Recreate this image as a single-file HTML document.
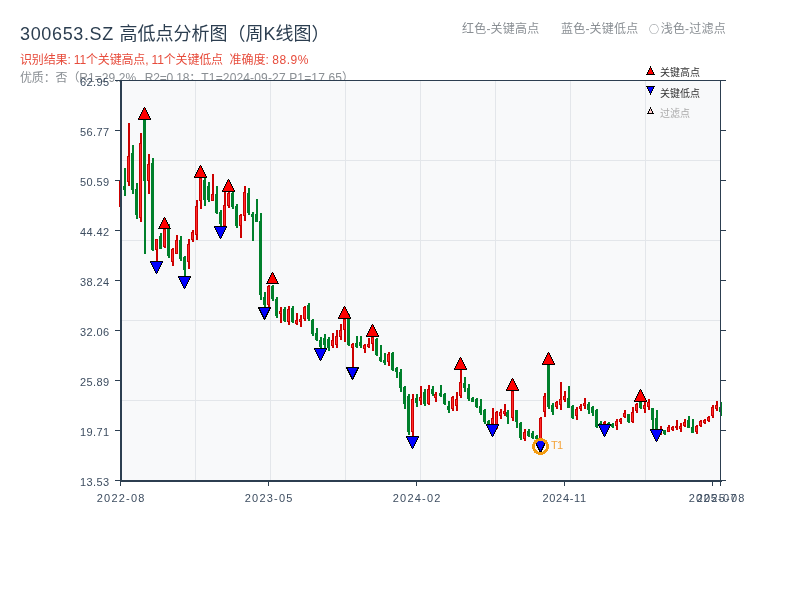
<!DOCTYPE html>
<html lang="zh-CN"><head><meta charset="utf-8"><title>300653.SZ 高低点分析图</title>
<style>
html,body{margin:0;padding:0;background:#fff}
body{width:800px;height:600px;position:relative;overflow:hidden;font-family:"Liberation Sans","Noto Sans CJK SC",sans-serif}
div{position:absolute;white-space:nowrap;line-height:1;will-change:transform}
.title{left:20px;top:25px;font-size:18px;color:#2c3e50}
.title span{letter-spacing:.65px}
.res{left:20px;top:54px;font-size:12px;color:#e74c3c}
.qual{left:20px;top:71px;font-size:12px;color:#8a8f94;letter-spacing:.08px}
.jp{font-family:"Noto Sans CJK JP",sans-serif}
.tl{top:23px;font-size:12px;color:#8a8f94;letter-spacing:.2px}
svg{position:absolute;left:0;top:0}
.yl{right:690px;font-size:11px;color:#3d4d60;height:12px;line-height:12px;text-align:right;letter-spacing:.4px}
.xl{top:493px;width:60px;text-align:center;font-size:11px;color:#3d4d60;letter-spacing:1.2px;padding-left:1.2px}
.lg{left:660px;font-size:10px;color:#333}
.t1{left:551px;top:439.5px;font-size:11px;color:#f3a33a;letter-spacing:-.6px}
</style></head><body>
<div class="title"><span>300653.SZ </span>高低点分析图（周K线图）</div>
<div class="res"><span style="letter-spacing:-.15px">识别结果: 11个关键高点, 11个关键低点</span>&nbsp; 准确度: <span style="letter-spacing:.5px">88.9%</span></div>
<div class="qual"><span style="letter-spacing:-.15px">优质<span class="jp">：</span>否（</span>R1=29.2%<span style="letter-spacing:.9px">, </span><span style="letter-spacing:-.17px">R2=0.18</span><span class="jp">；</span><span style="letter-spacing:.15px">T1=2024-09-27 P1=17.65</span>）</div>
<div class="tl" style="left:462px">红色-关键高点</div>
<div class="tl" style="left:561px">蓝色-关键低点</div>
<div class="tl" style="left:649px"><span style="font-family:'Noto Sans CJK SC',sans-serif;font-size:10px;margin-right:1.5px;position:relative;top:-0.5px">○</span>浅色-过滤点</div>
<svg width="800" height="600" viewBox="0 0 800 600" shape-rendering="crispEdges">
<rect x="120" y="80" width="601" height="401" fill="#f8f9fa"/>
<g fill="#e3e6ea">
<rect x="195" y="80" width="1" height="400"/>
<rect x="270" y="80" width="1" height="400"/>
<rect x="345" y="80" width="1" height="400"/>
<rect x="420" y="80" width="1" height="400"/>
<rect x="495" y="80" width="1" height="400"/>
<rect x="570" y="80" width="1" height="400"/>
<rect x="645" y="80" width="1" height="400"/>
<rect x="120" y="160" width="600" height="1"/>
<rect x="120" y="240" width="600" height="1"/>
<rect x="120" y="320" width="600" height="1"/>
<rect x="120" y="400" width="600" height="1"/>
</g>
<g>
<rect x="120" y="181" width="2" height="26" fill="#cc0000"/>
<rect x="119" y="181" width="3" height="26" fill="#cc0000"/>
<rect x="120" y="182" width="1" height="24" fill="#ff2a2a"/>
<rect x="124" y="168" width="2" height="28" fill="#00802b"/>
<rect x="123" y="186" width="3" height="4" fill="#00802b"/>
<rect x="128" y="123" width="2" height="63" fill="#cc0000"/>
<rect x="127" y="156" width="3" height="26" fill="#cc0000"/>
<rect x="128" y="157" width="1" height="24" fill="#ff2a2a"/>
<rect x="132" y="145" width="2" height="49" fill="#00802b"/>
<rect x="131" y="153" width="3" height="37" fill="#00802b"/>
<rect x="136" y="183" width="2" height="36" fill="#00802b"/>
<rect x="135" y="189" width="3" height="26" fill="#00802b"/>
<rect x="140" y="133" width="2" height="89" fill="#cc0000"/>
<rect x="139" y="143" width="3" height="75" fill="#cc0000"/>
<rect x="140" y="144" width="1" height="73" fill="#ff2a2a"/>
<rect x="144" y="120" width="2" height="134" fill="#00802b"/>
<rect x="143" y="120" width="3" height="61" fill="#00802b"/>
<rect x="148" y="154" width="2" height="40" fill="#cc0000"/>
<rect x="147" y="164" width="3" height="17" fill="#cc0000"/>
<rect x="148" y="165" width="1" height="15" fill="#ff2a2a"/>
<rect x="152" y="158" width="2" height="93" fill="#00802b"/>
<rect x="151" y="163" width="3" height="87" fill="#00802b"/>
<rect x="156" y="239" width="2" height="22" fill="#cc0000"/>
<rect x="155" y="239" width="3" height="11" fill="#cc0000"/>
<rect x="156" y="240" width="1" height="9" fill="#ff2a2a"/>
<rect x="160" y="233" width="2" height="16" fill="#00802b"/>
<rect x="159" y="236" width="3" height="13" fill="#00802b"/>
<rect x="164" y="229" width="2" height="19" fill="#cc0000"/>
<rect x="163" y="229" width="3" height="18" fill="#cc0000"/>
<rect x="164" y="230" width="1" height="16" fill="#ff2a2a"/>
<rect x="168" y="224" width="2" height="34" fill="#00802b"/>
<rect x="167" y="226" width="3" height="30" fill="#00802b"/>
<rect x="172" y="248" width="2" height="18" fill="#cc0000"/>
<rect x="171" y="249" width="3" height="13" fill="#cc0000"/>
<rect x="172" y="250" width="1" height="11" fill="#ff2a2a"/>
<rect x="176" y="235" width="2" height="19" fill="#cc0000"/>
<rect x="175" y="240" width="3" height="14" fill="#cc0000"/>
<rect x="176" y="241" width="1" height="12" fill="#ff2a2a"/>
<rect x="180" y="236" width="2" height="25" fill="#00802b"/>
<rect x="179" y="240" width="3" height="19" fill="#00802b"/>
<rect x="184" y="256" width="2" height="20" fill="#00802b"/>
<rect x="183" y="257" width="3" height="13" fill="#00802b"/>
<rect x="188" y="239" width="2" height="30" fill="#cc0000"/>
<rect x="187" y="244" width="3" height="18" fill="#cc0000"/>
<rect x="188" y="245" width="1" height="16" fill="#ff2a2a"/>
<rect x="192" y="230" width="2" height="12" fill="#cc0000"/>
<rect x="191" y="232" width="3" height="8" fill="#cc0000"/>
<rect x="192" y="233" width="1" height="6" fill="#ff2a2a"/>
<rect x="196" y="200" width="2" height="40" fill="#cc0000"/>
<rect x="195" y="206" width="3" height="29" fill="#cc0000"/>
<rect x="196" y="207" width="1" height="27" fill="#ff2a2a"/>
<rect x="200" y="178" width="2" height="31" fill="#cc0000"/>
<rect x="199" y="178" width="3" height="23" fill="#cc0000"/>
<rect x="200" y="179" width="1" height="21" fill="#ff2a2a"/>
<rect x="204" y="178" width="2" height="28" fill="#00802b"/>
<rect x="203" y="180" width="3" height="20" fill="#00802b"/>
<rect x="208" y="182" width="2" height="20" fill="#00802b"/>
<rect x="207" y="186" width="3" height="14" fill="#00802b"/>
<rect x="212" y="174" width="2" height="27" fill="#cc0000"/>
<rect x="211" y="194" width="3" height="7" fill="#cc0000"/>
<rect x="212" y="195" width="1" height="5" fill="#ff2a2a"/>
<rect x="216" y="186" width="2" height="28" fill="#00802b"/>
<rect x="215" y="194" width="3" height="19" fill="#00802b"/>
<rect x="220" y="210" width="2" height="16" fill="#00802b"/>
<rect x="219" y="212" width="3" height="12" fill="#00802b"/>
<rect x="224" y="192" width="2" height="34" fill="#cc0000"/>
<rect x="223" y="205" width="3" height="21" fill="#cc0000"/>
<rect x="224" y="206" width="1" height="19" fill="#ff2a2a"/>
<rect x="228" y="192" width="2" height="16" fill="#cc0000"/>
<rect x="227" y="193" width="3" height="13" fill="#cc0000"/>
<rect x="228" y="194" width="1" height="11" fill="#ff2a2a"/>
<rect x="232" y="192" width="2" height="17" fill="#00802b"/>
<rect x="231" y="193" width="3" height="14" fill="#00802b"/>
<rect x="236" y="204" width="2" height="24" fill="#00802b"/>
<rect x="235" y="206" width="3" height="20" fill="#00802b"/>
<rect x="240" y="214" width="2" height="24" fill="#cc0000"/>
<rect x="239" y="215" width="3" height="11" fill="#cc0000"/>
<rect x="240" y="216" width="1" height="9" fill="#ff2a2a"/>
<rect x="244" y="186" width="2" height="35" fill="#cc0000"/>
<rect x="243" y="192" width="3" height="24" fill="#cc0000"/>
<rect x="244" y="193" width="1" height="22" fill="#ff2a2a"/>
<rect x="248" y="188" width="2" height="27" fill="#00802b"/>
<rect x="247" y="193" width="3" height="20" fill="#00802b"/>
<rect x="252" y="212" width="2" height="29" fill="#00802b"/>
<rect x="251" y="214" width="3" height="3" fill="#00802b"/>
<rect x="256" y="199" width="2" height="23" fill="#00802b"/>
<rect x="255" y="214" width="3" height="8" fill="#00802b"/>
<rect x="260" y="213" width="2" height="87" fill="#00802b"/>
<rect x="259" y="221" width="3" height="74" fill="#00802b"/>
<rect x="264" y="292" width="2" height="16" fill="#00802b"/>
<rect x="263" y="297" width="3" height="8" fill="#00802b"/>
<rect x="268" y="285" width="2" height="22" fill="#cc0000"/>
<rect x="267" y="286" width="3" height="19" fill="#cc0000"/>
<rect x="268" y="287" width="1" height="17" fill="#ff2a2a"/>
<rect x="272" y="285" width="2" height="16" fill="#00802b"/>
<rect x="271" y="286" width="3" height="13" fill="#00802b"/>
<rect x="276" y="297" width="2" height="21" fill="#00802b"/>
<rect x="275" y="299" width="3" height="17" fill="#00802b"/>
<rect x="280" y="307" width="2" height="16" fill="#cc0000"/>
<rect x="279" y="311" width="3" height="3" fill="#cc0000"/>
<rect x="280" y="312" width="1" height="1" fill="#ff2a2a"/>
<rect x="284" y="307" width="2" height="15" fill="#00802b"/>
<rect x="283" y="309" width="3" height="12" fill="#00802b"/>
<rect x="288" y="306" width="2" height="19" fill="#cc0000"/>
<rect x="287" y="309" width="3" height="13" fill="#cc0000"/>
<rect x="288" y="310" width="1" height="11" fill="#ff2a2a"/>
<rect x="292" y="306" width="2" height="17" fill="#00802b"/>
<rect x="291" y="308" width="3" height="14" fill="#00802b"/>
<rect x="296" y="313" width="2" height="12" fill="#cc0000"/>
<rect x="295" y="320" width="3" height="4" fill="#cc0000"/>
<rect x="296" y="321" width="1" height="2" fill="#ff2a2a"/>
<rect x="300" y="315" width="2" height="12" fill="#cc0000"/>
<rect x="299" y="319" width="3" height="3" fill="#cc0000"/>
<rect x="300" y="320" width="1" height="1" fill="#ff2a2a"/>
<rect x="304" y="306" width="2" height="15" fill="#cc0000"/>
<rect x="303" y="307" width="3" height="12" fill="#cc0000"/>
<rect x="304" y="308" width="1" height="10" fill="#ff2a2a"/>
<rect x="308" y="303" width="2" height="18" fill="#00802b"/>
<rect x="307" y="305" width="3" height="14" fill="#00802b"/>
<rect x="312" y="319" width="2" height="17" fill="#00802b"/>
<rect x="311" y="320" width="3" height="14" fill="#00802b"/>
<rect x="316" y="328" width="2" height="13" fill="#00802b"/>
<rect x="315" y="333" width="3" height="7" fill="#00802b"/>
<rect x="320" y="337" width="2" height="11" fill="#00802b"/>
<rect x="319" y="340" width="3" height="7" fill="#00802b"/>
<rect x="324" y="334" width="2" height="14" fill="#00802b"/>
<rect x="323" y="338" width="3" height="7" fill="#00802b"/>
<rect x="328" y="337" width="2" height="14" fill="#00802b"/>
<rect x="327" y="339" width="3" height="9" fill="#00802b"/>
<rect x="332" y="333" width="2" height="15" fill="#cc0000"/>
<rect x="331" y="340" width="3" height="6" fill="#cc0000"/>
<rect x="332" y="341" width="1" height="4" fill="#ff2a2a"/>
<rect x="336" y="330" width="2" height="18" fill="#cc0000"/>
<rect x="335" y="336" width="3" height="9" fill="#cc0000"/>
<rect x="336" y="337" width="1" height="7" fill="#ff2a2a"/>
<rect x="340" y="324" width="2" height="16" fill="#cc0000"/>
<rect x="339" y="330" width="3" height="7" fill="#cc0000"/>
<rect x="340" y="331" width="1" height="5" fill="#ff2a2a"/>
<rect x="344" y="319" width="2" height="23" fill="#cc0000"/>
<rect x="343" y="319" width="3" height="11" fill="#cc0000"/>
<rect x="344" y="320" width="1" height="9" fill="#ff2a2a"/>
<rect x="348" y="314" width="2" height="32" fill="#00802b"/>
<rect x="347" y="319" width="3" height="26" fill="#00802b"/>
<rect x="352" y="343" width="2" height="25" fill="#cc0000"/>
<rect x="351" y="344" width="3" height="4" fill="#cc0000"/>
<rect x="352" y="345" width="1" height="2" fill="#ff2a2a"/>
<rect x="356" y="336" width="2" height="12" fill="#00802b"/>
<rect x="355" y="343" width="3" height="4" fill="#00802b"/>
<rect x="360" y="336" width="2" height="12" fill="#00802b"/>
<rect x="359" y="342" width="3" height="4" fill="#00802b"/>
<rect x="364" y="344" width="2" height="9" fill="#cc0000"/>
<rect x="363" y="345" width="3" height="4" fill="#cc0000"/>
<rect x="364" y="346" width="1" height="2" fill="#ff2a2a"/>
<rect x="368" y="338" width="2" height="10" fill="#cc0000"/>
<rect x="367" y="344" width="3" height="3" fill="#cc0000"/>
<rect x="368" y="345" width="1" height="1" fill="#ff2a2a"/>
<rect x="372" y="336" width="2" height="15" fill="#cc0000"/>
<rect x="371" y="337" width="3" height="7" fill="#cc0000"/>
<rect x="372" y="338" width="1" height="5" fill="#ff2a2a"/>
<rect x="376" y="338" width="2" height="18" fill="#00802b"/>
<rect x="375" y="339" width="3" height="16" fill="#00802b"/>
<rect x="380" y="345" width="2" height="17" fill="#00802b"/>
<rect x="379" y="357" width="3" height="4" fill="#00802b"/>
<rect x="384" y="353" width="2" height="12" fill="#00802b"/>
<rect x="383" y="360" width="3" height="3" fill="#00802b"/>
<rect x="388" y="352" width="2" height="14" fill="#cc0000"/>
<rect x="387" y="354" width="3" height="8" fill="#cc0000"/>
<rect x="388" y="355" width="1" height="6" fill="#ff2a2a"/>
<rect x="392" y="352" width="2" height="19" fill="#00802b"/>
<rect x="391" y="353" width="3" height="17" fill="#00802b"/>
<rect x="396" y="367" width="2" height="11" fill="#00802b"/>
<rect x="395" y="368" width="3" height="4" fill="#00802b"/>
<rect x="400" y="369" width="2" height="23" fill="#00802b"/>
<rect x="399" y="372" width="3" height="16" fill="#00802b"/>
<rect x="404" y="386" width="2" height="23" fill="#00802b"/>
<rect x="403" y="387" width="3" height="17" fill="#00802b"/>
<rect x="408" y="394" width="2" height="41" fill="#00802b"/>
<rect x="407" y="396" width="3" height="36" fill="#00802b"/>
<rect x="412" y="394" width="2" height="42" fill="#cc0000"/>
<rect x="411" y="399" width="3" height="33" fill="#cc0000"/>
<rect x="412" y="400" width="1" height="31" fill="#ff2a2a"/>
<rect x="416" y="394" width="2" height="13" fill="#00802b"/>
<rect x="415" y="398" width="3" height="5" fill="#00802b"/>
<rect x="420" y="386" width="2" height="19" fill="#cc0000"/>
<rect x="419" y="397" width="3" height="4" fill="#cc0000"/>
<rect x="420" y="398" width="1" height="2" fill="#ff2a2a"/>
<rect x="424" y="389" width="2" height="17" fill="#00802b"/>
<rect x="423" y="392" width="3" height="12" fill="#00802b"/>
<rect x="428" y="385" width="2" height="20" fill="#cc0000"/>
<rect x="427" y="389" width="3" height="15" fill="#cc0000"/>
<rect x="428" y="390" width="1" height="13" fill="#ff2a2a"/>
<rect x="432" y="386" width="2" height="10" fill="#00802b"/>
<rect x="431" y="389" width="3" height="5" fill="#00802b"/>
<rect x="435" y="392" width="2" height="10" fill="#cc0000"/>
<rect x="434" y="394" width="3" height="4" fill="#cc0000"/>
<rect x="435" y="395" width="1" height="2" fill="#ff2a2a"/>
<rect x="440" y="385" width="2" height="12" fill="#00802b"/>
<rect x="439" y="393" width="3" height="3" fill="#00802b"/>
<rect x="444" y="393" width="2" height="12" fill="#00802b"/>
<rect x="443" y="394" width="3" height="10" fill="#00802b"/>
<rect x="448" y="401" width="2" height="12" fill="#00802b"/>
<rect x="447" y="406" width="3" height="4" fill="#00802b"/>
<rect x="452" y="396" width="2" height="15" fill="#cc0000"/>
<rect x="451" y="397" width="3" height="12" fill="#cc0000"/>
<rect x="452" y="398" width="1" height="10" fill="#ff2a2a"/>
<rect x="456" y="392" width="2" height="19" fill="#cc0000"/>
<rect x="455" y="399" width="3" height="7" fill="#cc0000"/>
<rect x="456" y="400" width="1" height="5" fill="#ff2a2a"/>
<rect x="460" y="370" width="2" height="28" fill="#cc0000"/>
<rect x="459" y="382" width="3" height="14" fill="#cc0000"/>
<rect x="460" y="383" width="1" height="12" fill="#ff2a2a"/>
<rect x="464" y="377" width="2" height="15" fill="#00802b"/>
<rect x="463" y="383" width="3" height="5" fill="#00802b"/>
<rect x="468" y="384" width="2" height="17" fill="#00802b"/>
<rect x="467" y="388" width="3" height="11" fill="#00802b"/>
<rect x="472" y="397" width="2" height="5" fill="#00802b"/>
<rect x="471" y="398" width="3" height="4" fill="#00802b"/>
<rect x="476" y="398" width="2" height="10" fill="#00802b"/>
<rect x="475" y="399" width="3" height="8" fill="#00802b"/>
<rect x="480" y="399" width="2" height="16" fill="#00802b"/>
<rect x="479" y="406" width="3" height="7" fill="#00802b"/>
<rect x="484" y="409" width="2" height="15" fill="#00802b"/>
<rect x="483" y="410" width="3" height="12" fill="#00802b"/>
<rect x="488" y="420" width="2" height="4" fill="#00802b"/>
<rect x="487" y="421" width="3" height="3" fill="#00802b"/>
<rect x="492" y="408" width="2" height="16" fill="#cc0000"/>
<rect x="491" y="418" width="3" height="6" fill="#cc0000"/>
<rect x="492" y="419" width="1" height="4" fill="#ff2a2a"/>
<rect x="496" y="411" width="2" height="18" fill="#cc0000"/>
<rect x="495" y="412" width="3" height="13" fill="#cc0000"/>
<rect x="496" y="413" width="1" height="11" fill="#ff2a2a"/>
<rect x="500" y="409" width="2" height="10" fill="#cc0000"/>
<rect x="499" y="412" width="3" height="4" fill="#cc0000"/>
<rect x="500" y="413" width="1" height="2" fill="#ff2a2a"/>
<rect x="504" y="404" width="2" height="12" fill="#cc0000"/>
<rect x="503" y="411" width="3" height="3" fill="#cc0000"/>
<rect x="504" y="412" width="1" height="1" fill="#ff2a2a"/>
<rect x="507" y="410" width="2" height="14" fill="#00802b"/>
<rect x="506" y="412" width="3" height="5" fill="#00802b"/>
<rect x="512" y="391" width="2" height="30" fill="#cc0000"/>
<rect x="511" y="391" width="3" height="27" fill="#cc0000"/>
<rect x="512" y="392" width="1" height="25" fill="#ff2a2a"/>
<rect x="516" y="410" width="2" height="18" fill="#00802b"/>
<rect x="515" y="410" width="3" height="12" fill="#00802b"/>
<rect x="520" y="422" width="2" height="18" fill="#00802b"/>
<rect x="519" y="423" width="3" height="15" fill="#00802b"/>
<rect x="524" y="429" width="2" height="12" fill="#cc0000"/>
<rect x="523" y="432" width="3" height="7" fill="#cc0000"/>
<rect x="524" y="433" width="1" height="5" fill="#ff2a2a"/>
<rect x="528" y="429" width="2" height="8" fill="#00802b"/>
<rect x="527" y="431" width="3" height="5" fill="#00802b"/>
<rect x="532" y="431" width="2" height="8" fill="#00802b"/>
<rect x="531" y="433" width="3" height="5" fill="#00802b"/>
<rect x="536" y="435" width="2" height="5" fill="#00802b"/>
<rect x="535" y="436" width="3" height="3" fill="#00802b"/>
<rect x="540" y="417" width="2" height="23" fill="#cc0000"/>
<rect x="539" y="418" width="3" height="21" fill="#cc0000"/>
<rect x="540" y="419" width="1" height="19" fill="#ff2a2a"/>
<rect x="544" y="393" width="2" height="24" fill="#cc0000"/>
<rect x="543" y="396" width="3" height="16" fill="#cc0000"/>
<rect x="544" y="397" width="1" height="14" fill="#ff2a2a"/>
<rect x="548" y="365" width="2" height="44" fill="#00802b"/>
<rect x="547" y="365" width="3" height="42" fill="#00802b"/>
<rect x="552" y="403" width="2" height="12" fill="#00802b"/>
<rect x="551" y="405" width="3" height="7" fill="#00802b"/>
<rect x="556" y="401" width="2" height="8" fill="#cc0000"/>
<rect x="555" y="402" width="3" height="5" fill="#cc0000"/>
<rect x="556" y="403" width="1" height="3" fill="#ff2a2a"/>
<rect x="560" y="382" width="2" height="28" fill="#cc0000"/>
<rect x="559" y="399" width="3" height="6" fill="#cc0000"/>
<rect x="560" y="400" width="1" height="4" fill="#ff2a2a"/>
<rect x="564" y="391" width="2" height="11" fill="#cc0000"/>
<rect x="563" y="396" width="3" height="4" fill="#cc0000"/>
<rect x="564" y="397" width="1" height="2" fill="#ff2a2a"/>
<rect x="568" y="386" width="2" height="22" fill="#00802b"/>
<rect x="567" y="398" width="3" height="10" fill="#00802b"/>
<rect x="572" y="405" width="2" height="14" fill="#00802b"/>
<rect x="571" y="406" width="3" height="12" fill="#00802b"/>
<rect x="576" y="407" width="2" height="13" fill="#cc0000"/>
<rect x="575" y="409" width="3" height="7" fill="#cc0000"/>
<rect x="576" y="410" width="1" height="5" fill="#ff2a2a"/>
<rect x="580" y="404" width="2" height="7" fill="#cc0000"/>
<rect x="579" y="406" width="3" height="3" fill="#cc0000"/>
<rect x="580" y="407" width="1" height="1" fill="#ff2a2a"/>
<rect x="584" y="398" width="2" height="11" fill="#cc0000"/>
<rect x="583" y="403" width="3" height="3" fill="#cc0000"/>
<rect x="584" y="404" width="1" height="1" fill="#ff2a2a"/>
<rect x="588" y="402" width="2" height="12" fill="#00802b"/>
<rect x="587" y="404" width="3" height="6" fill="#00802b"/>
<rect x="592" y="406" width="2" height="10" fill="#00802b"/>
<rect x="591" y="407" width="3" height="6" fill="#00802b"/>
<rect x="596" y="409" width="2" height="19" fill="#00802b"/>
<rect x="595" y="410" width="3" height="17" fill="#00802b"/>
<rect x="600" y="421" width="2" height="8" fill="#00802b"/>
<rect x="599" y="423" width="3" height="5" fill="#00802b"/>
<rect x="604" y="421" width="2" height="3" fill="#cc0000"/>
<rect x="603" y="422" width="3" height="2" fill="#cc0000"/>
<rect x="608" y="422" width="2" height="3" fill="#00802b"/>
<rect x="607" y="423" width="3" height="2" fill="#00802b"/>
<rect x="612" y="423" width="2" height="5" fill="#00802b"/>
<rect x="611" y="424" width="3" height="3" fill="#00802b"/>
<rect x="616" y="419" width="2" height="11" fill="#cc0000"/>
<rect x="615" y="421" width="3" height="5" fill="#cc0000"/>
<rect x="616" y="422" width="1" height="3" fill="#ff2a2a"/>
<rect x="620" y="418" width="2" height="6" fill="#cc0000"/>
<rect x="619" y="419" width="3" height="3" fill="#cc0000"/>
<rect x="620" y="420" width="1" height="1" fill="#ff2a2a"/>
<rect x="624" y="410" width="2" height="8" fill="#cc0000"/>
<rect x="623" y="413" width="3" height="4" fill="#cc0000"/>
<rect x="624" y="414" width="1" height="2" fill="#ff2a2a"/>
<rect x="628" y="414" width="2" height="9" fill="#00802b"/>
<rect x="627" y="414" width="3" height="8" fill="#00802b"/>
<rect x="632" y="407" width="2" height="16" fill="#cc0000"/>
<rect x="631" y="412" width="3" height="10" fill="#cc0000"/>
<rect x="632" y="413" width="1" height="8" fill="#ff2a2a"/>
<rect x="636" y="403" width="2" height="10" fill="#cc0000"/>
<rect x="635" y="404" width="3" height="7" fill="#cc0000"/>
<rect x="636" y="405" width="1" height="5" fill="#ff2a2a"/>
<rect x="640" y="402" width="2" height="7" fill="#00802b"/>
<rect x="639" y="402" width="3" height="6" fill="#00802b"/>
<rect x="644" y="402" width="2" height="11" fill="#cc0000"/>
<rect x="643" y="405" width="3" height="4" fill="#cc0000"/>
<rect x="644" y="406" width="1" height="2" fill="#ff2a2a"/>
<rect x="648" y="399" width="2" height="11" fill="#cc0000"/>
<rect x="647" y="402" width="3" height="5" fill="#cc0000"/>
<rect x="648" y="403" width="1" height="3" fill="#ff2a2a"/>
<rect x="652" y="408" width="2" height="21" fill="#00802b"/>
<rect x="651" y="408" width="3" height="12" fill="#00802b"/>
<rect x="656" y="410" width="2" height="19" fill="#00802b"/>
<rect x="655" y="418" width="3" height="11" fill="#00802b"/>
<rect x="660" y="426" width="2" height="9" fill="#cc0000"/>
<rect x="659" y="430" width="3" height="4" fill="#cc0000"/>
<rect x="660" y="431" width="1" height="2" fill="#ff2a2a"/>
<rect x="664" y="430" width="2" height="5" fill="#00802b"/>
<rect x="663" y="430" width="3" height="4" fill="#00802b"/>
<rect x="668" y="425" width="2" height="7" fill="#cc0000"/>
<rect x="667" y="427" width="3" height="5" fill="#cc0000"/>
<rect x="668" y="428" width="1" height="3" fill="#ff2a2a"/>
<rect x="672" y="426" width="2" height="5" fill="#cc0000"/>
<rect x="671" y="427" width="3" height="3" fill="#cc0000"/>
<rect x="672" y="428" width="1" height="1" fill="#ff2a2a"/>
<rect x="676" y="420" width="2" height="10" fill="#cc0000"/>
<rect x="675" y="426" width="3" height="2" fill="#cc0000"/>
<rect x="680" y="423" width="2" height="9" fill="#cc0000"/>
<rect x="679" y="426" width="3" height="3" fill="#cc0000"/>
<rect x="680" y="427" width="1" height="1" fill="#ff2a2a"/>
<rect x="684" y="419" width="2" height="8" fill="#cc0000"/>
<rect x="683" y="422" width="3" height="4" fill="#cc0000"/>
<rect x="684" y="423" width="1" height="2" fill="#ff2a2a"/>
<rect x="688" y="416" width="2" height="12" fill="#00802b"/>
<rect x="687" y="420" width="3" height="8" fill="#00802b"/>
<rect x="692" y="419" width="2" height="14" fill="#00802b"/>
<rect x="691" y="427" width="3" height="6" fill="#00802b"/>
<rect x="696" y="425" width="2" height="9" fill="#cc0000"/>
<rect x="695" y="426" width="3" height="6" fill="#cc0000"/>
<rect x="696" y="427" width="1" height="4" fill="#ff2a2a"/>
<rect x="700" y="420" width="2" height="7" fill="#cc0000"/>
<rect x="699" y="421" width="3" height="5" fill="#cc0000"/>
<rect x="700" y="422" width="1" height="3" fill="#ff2a2a"/>
<rect x="704" y="419" width="2" height="5" fill="#cc0000"/>
<rect x="703" y="420" width="3" height="3" fill="#cc0000"/>
<rect x="704" y="421" width="1" height="1" fill="#ff2a2a"/>
<rect x="708" y="416" width="2" height="6" fill="#cc0000"/>
<rect x="707" y="417" width="3" height="4" fill="#cc0000"/>
<rect x="708" y="418" width="1" height="2" fill="#ff2a2a"/>
<rect x="712" y="405" width="2" height="13" fill="#cc0000"/>
<rect x="711" y="407" width="3" height="9" fill="#cc0000"/>
<rect x="712" y="408" width="1" height="7" fill="#ff2a2a"/>
<rect x="716" y="401" width="2" height="10" fill="#cc0000"/>
<rect x="715" y="405" width="3" height="4" fill="#cc0000"/>
<rect x="716" y="406" width="1" height="2" fill="#ff2a2a"/>
<rect x="720" y="402" width="2" height="14" fill="#00802b"/>
<rect x="719" y="407" width="3" height="5" fill="#00802b"/>
</g>
<g fill="#2c3e50">
<rect x="120" y="80" width="2" height="402"/>
<rect x="120" y="480" width="602" height="2"/>
<rect x="120" y="80" width="601" height="1"/>
<rect x="720" y="80" width="1" height="401"/>
<rect x="115" y="80" width="5" height="1"/>
<rect x="721" y="80" width="5" height="1"/>
<rect x="115" y="130" width="5" height="1"/>
<rect x="721" y="130" width="5" height="1"/>
<rect x="115" y="180" width="5" height="1"/>
<rect x="721" y="180" width="5" height="1"/>
<rect x="115" y="230" width="5" height="1"/>
<rect x="721" y="230" width="5" height="1"/>
<rect x="115" y="280" width="5" height="1"/>
<rect x="721" y="280" width="5" height="1"/>
<rect x="115" y="330" width="5" height="1"/>
<rect x="721" y="330" width="5" height="1"/>
<rect x="115" y="380" width="5" height="1"/>
<rect x="721" y="380" width="5" height="1"/>
<rect x="115" y="430" width="5" height="1"/>
<rect x="721" y="430" width="5" height="1"/>
<rect x="115" y="480" width="5" height="1"/>
<rect x="721" y="480" width="5" height="1"/>
<rect x="120" y="482" width="1" height="4"/>
<rect x="268" y="482" width="1" height="4"/>
<rect x="416" y="482" width="1" height="4"/>
<rect x="564" y="482" width="1" height="4"/>
<rect x="712" y="482" width="1" height="4"/>
<rect x="720" y="482" width="1" height="4"/>
</g>
<g stroke="#000" stroke-width="1" stroke-linejoin="bevel" shape-rendering="crispEdges">
<polygon points="144.5,107.00 150.5,119.00 138.5,119.00" fill="#ff0000"/>
<polygon points="164.5,216.90 170.5,228.90 158.5,228.90" fill="#ff0000"/>
<polygon points="200.5,165.25 206.5,177.25 194.5,177.25" fill="#ff0000"/>
<polygon points="228.5,179.10 234.5,191.10 222.5,191.10" fill="#ff0000"/>
<polygon points="272.5,271.90 278.5,283.90 266.5,283.90" fill="#ff0000"/>
<polygon points="344.5,306.25 350.5,318.25 338.5,318.25" fill="#ff0000"/>
<polygon points="372.5,324.00 378.5,336.00 366.5,336.00" fill="#ff0000"/>
<polygon points="460.5,357.10 466.5,369.10 454.5,369.10" fill="#ff0000"/>
<polygon points="512.5,378.10 518.5,390.10 506.5,390.10" fill="#ff0000"/>
<polygon points="548.5,352.10 554.5,364.10 542.5,364.10" fill="#ff0000"/>
<polygon points="640.5,389.00 646.5,401.00 634.5,401.00" fill="#ff0000"/>
<polygon points="150.5,261.75 162.5,261.75 156.5,273.75" fill="#0000ff"/>
<polygon points="178.5,276.75 190.5,276.75 184.5,288.75" fill="#0000ff"/>
<polygon points="214.5,226.75 226.5,226.75 220.5,238.75" fill="#0000ff"/>
<polygon points="258.5,307.50 270.5,307.50 264.5,319.50" fill="#0000ff"/>
<polygon points="314.5,348.90 326.5,348.90 320.5,360.90" fill="#0000ff"/>
<polygon points="346.5,367.50 358.5,367.50 352.5,379.50" fill="#0000ff"/>
<polygon points="406.5,436.75 418.5,436.75 412.5,448.75" fill="#0000ff"/>
<polygon points="486.5,424.90 498.5,424.90 492.5,436.90" fill="#0000ff"/>
<polygon points="534.5,440.50 546.5,440.50 540.5,452.50" fill="#0000ff"/>
<polygon points="598.5,424.90 610.5,424.90 604.5,436.90" fill="#0000ff"/>
<polygon points="650.5,429.90 662.5,429.90 656.5,441.90" fill="#0000ff"/>
</g>
<circle cx="540.5" cy="446.5" r="7" fill="none" stroke="#f39c12" stroke-width="3"/>
<g stroke="#000" stroke-width="1" shape-rendering="crispEdges">
<polygon points="650.5,67 654,74.5 647,74.5" fill="#ff0000"/>
<polygon points="647,86.5 654,86.5 650.5,94" fill="#0000ff"/>
<polygon points="650.5,108 653,113.5 648,113.5" fill="#ffcccc"/>
</g>
</svg>
<div class="yl" style="top:76px">62.95</div>
<div class="yl" style="top:126px">56.77</div>
<div class="yl" style="top:176px">50.59</div>
<div class="yl" style="top:226px">44.42</div>
<div class="yl" style="top:276px">38.24</div>
<div class="yl" style="top:326px">32.06</div>
<div class="yl" style="top:376px">25.89</div>
<div class="yl" style="top:426px">19.71</div>
<div class="yl" style="top:476px">13.53</div>
<div class="xl" style="left:90px">2022-08</div>
<div class="xl" style="left:238px">2023-05</div>
<div class="xl" style="left:386px">2024-02</div>
<div class="xl" style="left:534px;letter-spacing:.7px;padding-left:.7px">2024-11</div>
<div class="xl" style="left:682px">2025-07</div>
<div class="xl" style="left:690px">2025-08</div>
<div class="lg" style="top:68px">关键高点</div>
<div class="lg" style="top:89px">关键低点</div>
<div class="lg" style="top:109px;color:#aaa">过滤点</div>
<div class="t1">T1</div>
</body></html>
